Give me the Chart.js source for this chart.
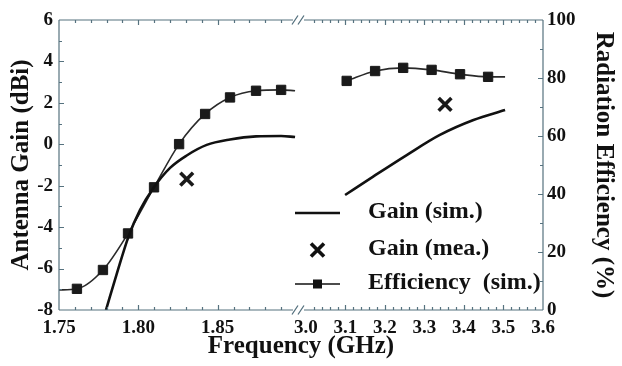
<!DOCTYPE html>
<html>
<head>
<meta charset="utf-8">
<script src="https://cdn.jsdelivr.net/npm/chart.js@4.4.0/dist/chart.umd.min.js"></script>
<style>
  html, body { margin: 0; padding: 0; background: #fff; }
  #wrap { width: 622px; height: 366px; }
</style>
</head>
<body>
<div id="wrap"><canvas id="gain-eff" width="622" height="366"></canvas></div>
<script>
/** ANTENNA GAIN / RADIATION EFFICIENCY (broken frequency axis) **/

// simulated gain, dBi (low band then high band)
var gainSimFreq = [1.7796, 1.7864, 1.7937, 1.8011, 1.8095, 1.8200, 1.8305, 1.8431, 1.8578, 1.8742, 1.8900, 1.8988,
                   3.099, 3.170, 3.255, 3.339, 3.424, 3.504];
var gainSimDbi  = [-8.0, -6.26, -4.48, -3.17, -2.11, -1.14, -0.54, -0.03, 0.23, 0.38, 0.40, 0.35,
                   -2.45, -1.56, -0.52, 0.45, 1.17, 1.65];

// measured gain, dBi
var gainMeaFreq = [1.8305, 3.352];
var gainMeaDbi  = [-1.68, 1.93];

// simulated radiation efficiency, %
var effFreq   = [1.75, 1.7613, 1.7777, 1.7935, 1.8099, 1.8257, 1.8421, 1.8578, 1.8742, 1.8900, 1.8988,
                 3.103, 3.175, 3.246, 3.318, 3.390, 3.461, 3.504];
var effPct    = [6.9, 7.3, 13.8, 26.4, 42.3, 57.2, 67.6, 73.3, 75.6, 75.9, 75.6,
                 79.0, 82.4, 83.5, 82.8, 81.3, 80.4, 80.4];
var effMarker = [false, true, true, true, true, true, true, true, true, true, false,
                 true, true, true, true, true, true, false];

// ticks
var freqTicks = [1.75, 1.80, 1.85, 3.0, 3.1, 3.2, 3.3, 3.4, 3.5, 3.6];
var gainTicks = [-8, -6, -4, -2, 0, 2, 4, 6];
var effTicks  = [0, 20, 40, 60, 80, 100];

// the two frequency bands and where they sit on the axis (fraction of width)
var lowBand = [1.75, 1.90];
var highBand = [3.0, 3.6];
var lowFrac = 0.4917;
var highFrac = 0.5103;

var axisColor = '#56727f';
var serif = "'Liberation Serif', 'Times New Roman', serif";
var tickFont = { family: serif, weight: 'bold', size: 19 };
var titleFont = { family: serif, weight: 'bold', size: 25, lineHeight: 1.2 };

class BrokenFreqScale extends Chart.LinearScale {
    buildTicks() {
        return freqTicks.map(function (v) { return { value: v }; });
    }
    toDecimal(v) {
        if (v <= lowBand[1]) {
            return (v - lowBand[0]) / (lowBand[1] - lowBand[0]) * lowFrac;
        }
        return highFrac + (v - highBand[0]) / (highBand[1] - highBand[0]) * (1 - highFrac);
    }
    getPixelForValue(v) {
        return this.getPixelForDecimal(this.toDecimal(v));
    }
    getValueForPixel(p) {
        var d = this.getDecimalForPixel(p);
        if (d <= lowFrac) return lowBand[0] + d / lowFrac * (lowBand[1] - lowBand[0]);
        return highBand[0] + (d - highFrac) / (1 - highFrac) * (highBand[1] - highBand[0]);
    }
}
BrokenFreqScale.id = 'brokenFreq';
BrokenFreqScale.defaults = Chart.LinearScale.defaults;
Chart.register(BrokenFreqScale);

// points for one series, with a null between the bands so the line breaks
function bandPoints(freq, vals, marker) {
    var pts = [];
    for (var i = 0; i < freq.length; i++) {
        if (i > 0 && freq[i - 1] <= lowBand[1] && freq[i] >= highBand[0]) {
            pts.push({ x: lowBand[1], y: null });
        }
        pts.push({ x: freq[i], y: vals[i], marker: marker ? marker[i] : true });
    }
    return pts;
}

var frameAndTicks = {
    id: 'frameAndTicks',
    afterDatasetsDraw: function (chart) {
        var ctx = chart.ctx, a = chart.chartArea;
        var xs = chart.scales.x, ys = chart.scales.y, ys1 = chart.scales.y1;
        var gapL = xs.getPixelForValue(lowBand[1]) - 4;
        var gapR = xs.getPixelForValue(highBand[0]) - 2;
        var i, v, px, len;

        ctx.save();
        ctx.strokeStyle = axisColor;
        ctx.lineWidth = 1.2;
        ctx.beginPath();
        ctx.moveTo(a.left, a.top); ctx.lineTo(a.left, a.bottom);
        ctx.moveTo(a.right, a.top); ctx.lineTo(a.right, a.bottom);
        [a.top, a.bottom].forEach(function (yy) {
            ctx.moveTo(a.left, yy); ctx.lineTo(gapL, yy);
            ctx.moveTo(gapR, yy); ctx.lineTo(a.right, yy);
        });

        // frequency ticks, inward on top and bottom
        function xTick(val, major) {
            px = Math.round(xs.getPixelForValue(val)) + 0.5;
            len = major ? 5 : 3;
            ctx.moveTo(px, a.bottom); ctx.lineTo(px, a.bottom - len);
            ctx.moveTo(px, a.top); ctx.lineTo(px, a.top + len);
        }
        for (i = 1; i <= 14; i++) xTick(lowBand[0] + i * 0.01, i % 5 === 0);
        for (i = 1; i <= 29; i++) xTick(highBand[0] + i * 0.02, i % 5 === 0);

        // gain ticks (left), efficiency ticks (right)
        for (v = -7; v <= 5; v++) {
            px = Math.round(ys.getPixelForValue(v)) + 0.5;
            len = v % 2 === 0 ? 5 : 3;
            ctx.moveTo(a.left, px); ctx.lineTo(a.left + len, px);
        }
        for (v = 10; v <= 90; v += 10) {
            px = Math.round(ys1.getPixelForValue(v)) + 0.5;
            len = v % 20 === 0 ? 5 : 3;
            ctx.moveTo(a.right, px); ctx.lineTo(a.right - len, px);
        }
        ctx.stroke();

        // break marks
        ctx.lineWidth = 1.3;
        ctx.beginPath();
        [a.top, a.bottom].forEach(function (yy) {
            [gapL + 2, gapL + 8].forEach(function (cx) {
                ctx.moveTo(cx - 3, yy + 4.5);
                ctx.lineTo(cx + 3, yy - 4.5);
            });
        });
        ctx.stroke();
        ctx.restore();
    }
};

var insideLegend = {
    id: 'insideLegend',
    afterDraw: function (chart) {
        var ctx = chart.ctx;
        var ds = chart.data.datasets;
        var x0 = 295, x1 = 340, tx = 368;
        var rows = [213, 250, 284];
        var cx = (x0 + x1) / 2;

        ctx.save();
        ctx.strokeStyle = '#111';
        ctx.fillStyle = '#111';

        ctx.lineWidth = ds[0].borderWidth;
        ctx.beginPath(); ctx.moveTo(x0, rows[0]); ctx.lineTo(x1, rows[0]); ctx.stroke();

        ctx.lineWidth = ds[1].pointBorderWidth;
        ctx.beginPath();
        ctx.moveTo(cx - 6.5, rows[1] - 6.5); ctx.lineTo(cx + 6.5, rows[1] + 6.5);
        ctx.moveTo(cx + 6.5, rows[1] - 6.5); ctx.lineTo(cx - 6.5, rows[1] + 6.5);
        ctx.stroke();

        ctx.lineWidth = ds[2].borderWidth;
        ctx.beginPath(); ctx.moveTo(x0, rows[2]); ctx.lineTo(x1, rows[2]); ctx.stroke();
        ctx.fillRect(cx - 4.5, rows[2] - 4.5, 9, 9);

        ctx.font = 'bold 24px ' + serif;
        ctx.textBaseline = 'middle';
        ctx.textAlign = 'left';
        for (var i = 0; i < 3; i++) ctx.fillText(ds[i].label, tx, rows[i] - 1);
        ctx.restore();
    }
};

var canvas = document.getElementById('gain-eff');

var gainEffChart = new Chart(canvas, {
    type: 'line',
    data: {
        datasets: [{
            label: 'Gain (sim.)',
            data: bandPoints(gainSimFreq, gainSimDbi),
            yAxisID: 'y',
            borderColor: '#111',
            borderWidth: 2.6,
            pointRadius: 0,
            cubicInterpolationMode: 'monotone',
            spanGaps: false
        }, {
            label: 'Gain (mea.)',
            data: bandPoints(gainMeaFreq, gainMeaDbi),
            yAxisID: 'y',
            showLine: false,
            pointStyle: 'crossRot',
            pointRadius: 9,
            pointBorderWidth: 3.6,
            pointBorderColor: '#1a1a1a',
            borderColor: '#1a1a1a'
        }, {
            label: 'Efficiency  (sim.)',
            data: bandPoints(effFreq, effPct, effMarker),
            yAxisID: 'y1',
            borderColor: '#2a2a2a',
            borderWidth: 1.6,
            pointStyle: 'rect',
            pointRadius: function (c) { return c.raw && c.raw.marker ? 6.6 : 0; },
            pointBackgroundColor: '#1a1a1a',
            pointBorderColor: '#1a1a1a',
            pointBorderWidth: 1,
            cubicInterpolationMode: 'monotone',
            spanGaps: false
        }]
    },
    options: {
        responsive: false,
        animation: false,
        events: [],
        layout: { padding: { top: 20, left: 0, right: 0, bottom: 0 } },
        plugins: { legend: { display: false }, tooltip: { enabled: false } },
        scales: {
            x: {
                type: 'brokenFreq',
                min: lowBand[0],
                max: highBand[1],
                grid: { display: false, drawTicks: false },
                border: { display: false },
                ticks: {
                    autoSkip: false,
                    maxRotation: 0,
                    padding: 7,
                    color: '#111',
                    font: tickFont,
                    callback: function (v) { return v < 2 ? v.toFixed(2) : v.toFixed(1); }
                },
                title: { display: true, text: 'Frequency (GHz)', color: '#111', font: titleFont, padding: { top: 0, bottom: 4 } },
                afterFit: function (s) { s.height = 56; }
            },
            y: {
                position: 'left',
                min: -8,
                max: 6,
                grid: { display: false, drawTicks: false },
                border: { display: false },
                afterBuildTicks: function (s) { s.ticks = gainTicks.map(function (v) { return { value: v }; }); },
                ticks: { padding: 6, color: '#111', font: tickFont, callback: function (v) { return String(v); } },
                title: { display: true, text: 'Antenna Gain (dBi)', color: '#111', font: titleFont, padding: { top: 7, bottom: 0 } },
                afterFit: function (s) { s.width = 59; }
            },
            y1: {
                position: 'right',
                min: 0,
                max: 100,
                grid: { display: false, drawTicks: false },
                border: { display: false },
                afterBuildTicks: function (s) { s.ticks = effTicks.map(function (v) { return { value: v }; }); },
                ticks: { padding: 4, color: '#111', font: tickFont, callback: function (v) { return String(v); } },
                title: { display: true, text: 'Radiation Efficiency (%)', color: '#111', font: titleFont, padding: { top: 4, bottom: 0 } },
                afterFit: function (s) { s.width = 79; }
            }
        }
    },
    plugins: [frameAndTicks, insideLegend]
});
</script>
</body>
</html>
